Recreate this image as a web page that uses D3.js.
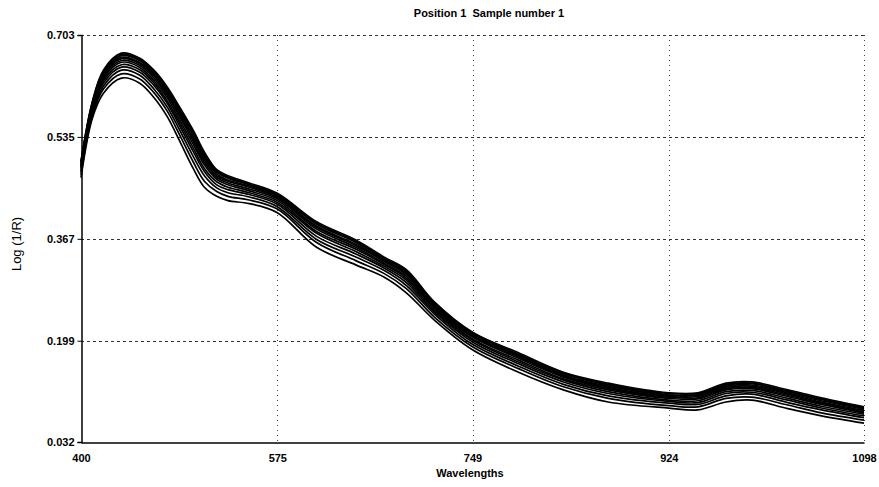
<!DOCTYPE html>
<html>
<head>
<meta charset="utf-8">
<script src="https://cdn.jsdelivr.net/npm/d3@7"></script>
<style>
  body { margin: 0; background: #fff; }
  svg { display: block; font-family: "Liberation Sans", Arial, sans-serif; }
</style>
</head>
<body>
<div id="chart"></div>
<script>
// Wavelength grid (nm) shared by every spectrum
const wavelengths = [400, 410, 420, 436, 452, 465, 477, 488, 500, 510, 521, 531, 550, 575, 610,
                     645, 670, 690, 715, 749, 790, 830, 870, 924, 950, 975, 998, 1030, 1060, 1098];

// Log(1/R) spectra, top of the band to bottom
const spectrum01 = [.495,.592,.645,.673,.665,.645,.617,.584,.546,.510,.481,.471,.459,.442,.395,.365,.337,.316,.263,.213,.179,.147,.129,.113,.113,.129,.131,.118,.105,.090];
const spectrum02 = [.494,.591,.643,.671,.663,.643,.615,.581,.543,.507,.479,.469,.457,.440,.393,.363,.335,.314,.261,.212,.177,.146,.127,.112,.112,.127,.129,.116,.103,.089];
const spectrum03 = [.492,.589,.641,.669,.661,.640,.612,.578,.540,.504,.477,.467,.456,.439,.391,.361,.334,.312,.260,.210,.176,.144,.126,.110,.110,.126,.128,.115,.102,.087];
const spectrum04 = [.491,.588,.639,.666,.658,.638,.609,.575,.536,.501,.474,.464,.454,.437,.388,.358,.332,.310,.258,.208,.174,.142,.124,.109,.109,.124,.126,.113,.100,.086];
const spectrum05 = [.489,.586,.637,.664,.656,.635,.606,.572,.532,.497,.471,.462,.452,.435,.386,.356,.330,.308,.256,.207,.172,.141,.122,.107,.107,.122,.124,.111,.098,.084];
const spectrum06 = [.487,.584,.634,.661,.653,.632,.603,.568,.528,.493,.468,.459,.449,.433,.383,.353,.327,.305,.254,.205,.170,.139,.120,.106,.105,.120,.122,.109,.096,.082];
const spectrum07 = [.485,.582,.631,.658,.650,.628,.599,.563,.523,.489,.465,.456,.446,.430,.379,.350,.325,.302,.252,.202,.167,.136,.118,.104,.103,.118,.120,.107,.094,.080];
const spectrum08 = [.483,.580,.628,.654,.646,.624,.594,.558,.517,.483,.461,.452,.443,.427,.376,.346,.322,.299,.249,.200,.164,.134,.115,.101,.100,.115,.117,.104,.091,.078];
const spectrum09 = [.480,.577,.624,.650,.642,.620,.590,.553,.511,.478,.456,.448,.440,.424,.371,.342,.319,.295,.246,.197,.161,.131,.112,.099,.097,.112,.114,.101,.088,.075];
const spectrum10 = [.477,.574,.619,.645,.637,.614,.584,.546,.503,.471,.451,.443,.436,.420,.366,.337,.315,.290,.243,.193,.157,.127,.108,.096,.094,.108,.111,.097,.085,.072];
const spectrum11 = [.473,.570,.614,.639,.631,.608,.577,.538,.494,.462,.445,.437,.431,.416,.361,.331,.310,.285,.238,.189,.153,.123,.104,.092,.090,.104,.106,.093,.080,.068];
const spectrum12 = [.468,.565,.607,.632,.624,.600,.568,.528,.483,.452,.437,.430,.425,.410,.353,.324,.304,.278,.233,.184,.147,.118,.098,.088,.085,.098,.101,.087,.075,.063];

const spectra = [spectrum01, spectrum02, spectrum03, spectrum04, spectrum05, spectrum06,
                 spectrum07, spectrum08, spectrum09, spectrum10, spectrum11, spectrum12];

// Axis ticks as printed on the chart
const xTicks = [400, 575, 749, 924, 1098];
const yTicks = [0.032, 0.199, 0.367, 0.535, 0.703];

const W = 879, H = 487;
const plotLeft = 81, plotRight = 864, plotTop = 35, plotBottom = 442;

const svg = d3.select("#chart").append("svg")
    .attr("width", W)
    .attr("height", H);

const x = d3.scaleLinear().domain([400, 1098]).range([plotLeft, plotRight]);
const y = d3.scaleLinear().domain([0.032, 0.703]).range([plotBottom, plotTop]);

// Horizontal grid lines (dashed)
svg.append("g")
    .selectAll("line")
    .data(yTicks.slice(1))
    .join("line")
    .attr("x1", plotLeft)
    .attr("x2", plotRight)
    .attr("y1", d => Math.round(y(d)) + 0.5)
    .attr("y2", d => Math.round(y(d)) + 0.5)
    .attr("stroke", "#333")
    .attr("stroke-width", 1)
    .attr("stroke-dasharray", "3,3");

// Vertical grid lines (dotted)
svg.append("g")
    .selectAll("line")
    .data(xTicks.slice(1))
    .join("line")
    .attr("x1", d => Math.round(x(d)) + 0.5)
    .attr("x2", d => Math.round(x(d)) + 0.5)
    .attr("y1", plotTop)
    .attr("y2", plotBottom)
    .attr("stroke", "#444")
    .attr("stroke-width", 1)
    .attr("stroke-dasharray", "1,4");

// Spectra
const line = d3.line()
    .x((d, i) => x(wavelengths[i]))
    .y(d => y(d))
    .curve(d3.curveCatmullRom.alpha(0.5));

svg.append("g")
    .selectAll("path")
    .data(spectra)
    .join("path")
    .attr("d", line)
    .attr("fill", "none")
    .attr("stroke", "#000")
    .attr("stroke-width", 1.7);

// Axes: solid left and bottom lines
const yAxis = d3.axisLeft(y)
    .tickValues(yTicks)
    .tickSize(4)
    .tickFormat(d3.format(".3f"));

const yAxisG = svg.append("g")
    .attr("transform", `translate(${plotLeft + 0.5},0)`)
    .call(yAxis);

const xAxis = d3.axisBottom(x)
    .tickValues(xTicks)
    .tickSize(0)
    .tickPadding(12)
    .tickFormat(d3.format("d"));

const xAxisG = svg.append("g")
    .attr("transform", `translate(0,${plotBottom + 0.5})`)
    .call(xAxis);

[yAxisG, xAxisG].forEach(g => {
    g.select(".domain").attr("stroke", "#000").attr("stroke-width", 1.5);
    g.selectAll(".tick line").attr("stroke", "#000");
    g.selectAll("text")
        .attr("fill", "#000")
        .attr("font-size", "11px")
        .attr("font-weight", "bold")
        .attr("font-family", "'Liberation Sans', Arial, sans-serif");
});
yAxisG.selectAll("text").attr("x", -7);

// Title
svg.append("text")
    .attr("x", 489)
    .attr("y", 17)
    .attr("text-anchor", "middle")
    .attr("font-size", "11px")
    .attr("font-weight", "bold")
    .style("white-space", "pre")
    .text("Position 1  Sample number 1");

// X axis title
svg.append("text")
    .attr("x", 470)
    .attr("y", 477)
    .attr("text-anchor", "middle")
    .attr("font-size", "11px")
    .attr("font-weight", "bold")
    .text("Wavelengths");

// Y axis title
svg.append("text")
    .attr("transform", `translate(21,${244}) rotate(-90)`)
    .attr("text-anchor", "middle")
    .attr("font-size", "13px")
    .text("Log (1/R)");
</script>
</body>
</html>
